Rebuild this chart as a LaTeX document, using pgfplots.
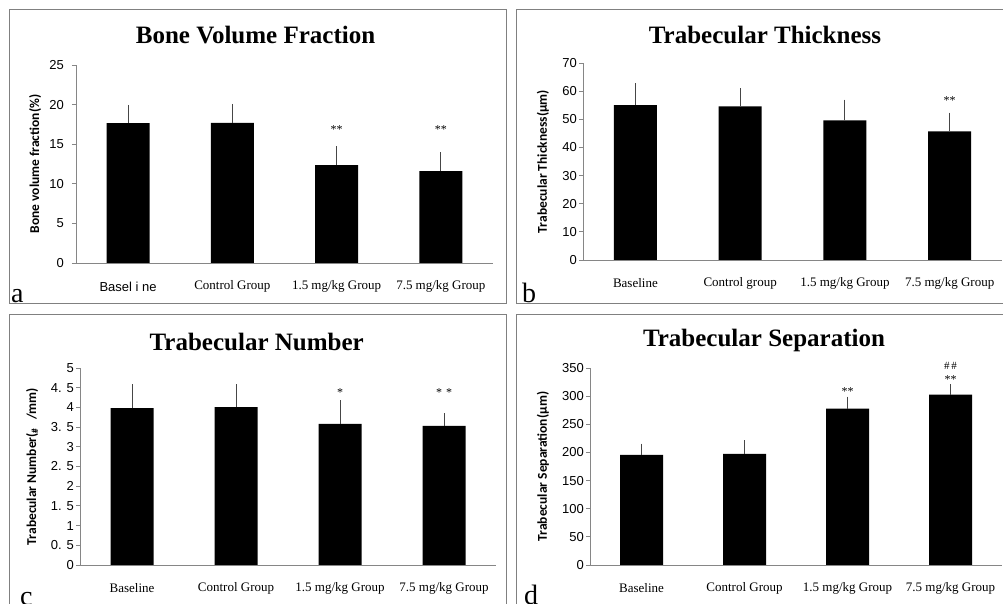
\documentclass[border=0pt]{standalone}
\usepackage{pgfplots}
\pgfplotsset{compat=1.18}
\usepackage{fontspec}
\setmainfont{Liberation Serif}
\setsansfont{Liberation Sans}
\newfontfamily\calib{Carlito}
\definecolor{framegray}{RGB}{128,128,128}
\definecolor{axgray}{RGB}{134,134,134}
\definecolor{errgray}{RGB}{70,70,70}

\pgfplotsset{
  panel/.style={
    scale only axis, anchor=origin,
    xmin=-0.5, xmax=3.5, ymin=0,
    axis x line=bottom, axis y line=left,
    axis line style={axgray, line width=0.8pt, -},
    xtick={0,1,2,3}, xtick style={draw=none},
    ytick style={axgray, line width=0.8pt},
    tick align=outside, major tick length=4pt,
    yticklabel style={font=\sffamily\fontsize{13}{13}\selectfont, inner xsep=2pt},
    xticklabel style={font=\rmfamily\fontsize{13}{13}\selectfont, anchor=center, yshift=-19.5pt},
    /pgf/number format/assume math mode=true,
    ylabel style={font=\calib\bfseries\fontsize{13.5}{13.5}\selectfont, anchor=center},
    ybar, bar width=43pt,
    clip=false,
  },
  barplot/.style={fill=black, draw=none,
    error bars/.cd, y dir=plus, y explicit,
    error bar style={errgray, line width=1pt},
    error mark options={errgray, line width=1pt, mark size=3pt}},
}

\pgfplotstableread{
x y e
0 17.65 1.95
1 17.70 2.00
2 12.37 2.00
3 11.60 2.00
}\bvf
\pgfplotstableread{
x y e
0 55.0 6.8
1 54.6 5.4
2 49.6 6.3
3 45.7 5.6
}\tbth
\pgfplotstableread{
x y e
0 3.98 0.53
1 4.01 0.50
2 3.58 0.52
3 3.53 0.25
}\tbn
\pgfplotstableread{
x y e
0 195.7 14.8
1 197.5 19.0
2 277.6 16.0
3 302.5 13.0
}\tbsp

\begin{document}
\begin{tikzpicture}
\path[use as bounding box] (0pt,0pt) rectangle (1003pt,604pt);
% frames
\draw[framegray, line width=1pt] (9pt,594pt) rectangle (506pt,300pt);
\draw[framegray, line width=1pt] (1003pt,594pt) -- (516pt,594pt) -- (516pt,300pt) -- (1003pt,300pt);
\draw[framegray, line width=1pt] (506pt,-2pt) -- (506pt,289pt) -- (9pt,289pt) -- (9pt,-2pt);
\draw[framegray, line width=1pt] (1003pt,289pt) -- (516pt,289pt) -- (516pt,-2pt);

% titles
\node[font=\rmfamily\bfseries\fontsize{25}{25}\selectfont] at (255.5pt,569pt) {Bone Volume Fraction};
\node[font=\rmfamily\bfseries\fontsize{25}{25}\selectfont] at (765pt,569pt) {Trabecular Thickness};
\node[font=\rmfamily\bfseries\fontsize{25}{25}\selectfont] at (256.7pt,262.3pt) {Trabecular Number};
\node[font=\rmfamily\bfseries\fontsize{25}{25}\selectfont] at (764pt,264pt) {Trabecular Separation};

% panel letters
\node[font=\rmfamily\fontsize{28}{28}\selectfont, anchor=base west, inner sep=0pt] at (11pt,301pt) {a};
\node[font=\rmfamily\fontsize{28}{28}\selectfont, anchor=base west, inner sep=0pt] at (522pt,301pt) {b};
\node[font=\rmfamily\fontsize{28}{28}\selectfont, anchor=base west, inner sep=0pt] at (20pt,-2pt) {c};
\node[font=\rmfamily\fontsize{28}{28}\selectfont, anchor=base west, inner sep=0pt] at (524pt,-1pt) {d};

% panel a
\begin{axis}[panel, at={(128.1pt,341pt)}, width=417pt, height=198pt,
  ymax=25, ytick={0,5,...,25},
  yticklabel style={xshift=-6pt},
  xticklabels={{\sffamily Basel i ne}, Control Group, 1.5 mg/kg Group, 7.5 mg/kg Group},
  ylabel={Bone volume fraction(\%)},
  ylabel style={at={(axis description cs:-0.098,0.5)}}]
\addplot[barplot] table[x=x, y=y, y error=e] {\bvf};
\node[font=\rmfamily\fontsize{12}{12}\selectfont] at (axis cs:2,16.8) {**};
\node[font=\rmfamily\fontsize{12}{12}\selectfont] at (axis cs:3,16.8) {**};
\end{axis}

% panel b
\begin{axis}[panel, at={(635.4pt,344pt)}, width=419pt, height=197pt,
  ymax=70, ytick={0,10,...,70},
  xticklabels={{\raisebox{2pt}{Baseline}}, Control group, 1.5 mg/kg Group, 7.5 mg/kg Group},
  ylabel={Trabecular Thickness(µm)},
  ylabel style={at={(axis description cs:-0.0955,0.5)}}]
\addplot[barplot] table[x=x, y=y, y error=e] {\tbth};
\node[font=\rmfamily\fontsize{12}{12}\selectfont] at (axis cs:3,56.5) {**};
\end{axis}

% panel c
\begin{axis}[panel, at={(132pt,39pt)}, width=416pt, height=197pt,
  ymax=5, ytick={0,0.5,...,5},
  yticklabels={0,0. 5,1,1. 5,2,2. 5,3,3. 5,4,4. 5,5},
  xticklabels={{\raisebox{1pt}{Baseline}}, Control Group, 1.5 mg/kg Group, 7.5 mg/kg Group},
  ylabel={Trabecular Number(\textsubscript{\#}\hspace{8pt}/mm)},
  ylabel style={at={(axis description cs:-0.115,0.5)}}]
\addplot[barplot] table[x=x, y=y, y error=e] {\tbn};
\node[font=\rmfamily\fontsize{12}{12}\selectfont] at (axis cs:2,4.38) {*};
\node[font=\rmfamily\fontsize{12}{12}\selectfont] at (axis cs:3,4.38) {*\,\,*};
\end{axis}

% panel d
\begin{axis}[panel, at={(641.5pt,39pt)}, width=412pt, height=197pt,
  ymax=350, ytick={0,50,...,350},
  xticklabels={{\raisebox{1pt}{Baseline}}, Control Group, 1.5 mg/kg Group, 7.5 mg/kg Group},
  ylabel={Trabecular Separation(µm)},
  ylabel style={at={(axis description cs:-0.114,0.5)}}]
\addplot[barplot] table[x=x, y=y, y error=e] {\tbsp};
\node[font=\rmfamily\fontsize{12}{12}\selectfont] at (axis cs:2,309) {**};
\node[font=\rmfamily\fontsize{12}{12}\selectfont] at (axis cs:3,330) {**};
\node[font=\rmfamily\fontsize{11}{11}\selectfont] at (axis cs:3,354) {\#\,\#};
\end{axis}
\end{tikzpicture}
\end{document}
